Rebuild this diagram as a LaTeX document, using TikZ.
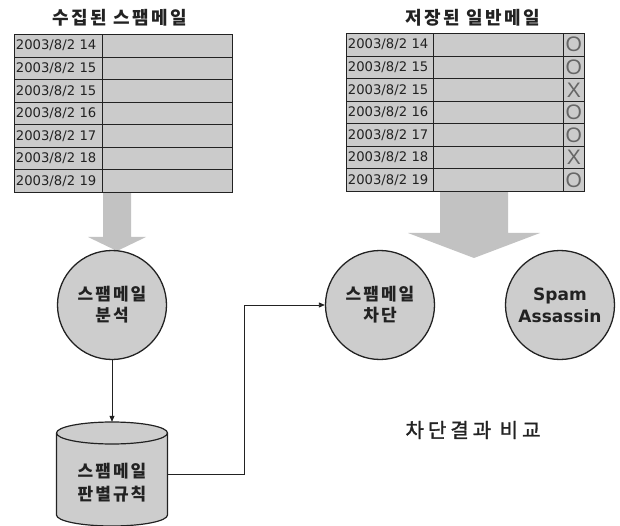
\documentclass[tikz,border=0pt]{standalone}
\usepackage{fontspec}
\usetikzlibrary{arrows.meta}
\newfontfamily\kr{Noto Sans CJK KR}
\newfontfamily\dv{DejaVu Sans}
\newfontfamily\lib{Liberation Sans}
\definecolor{cellgray}{HTML}{CBCBCB}
\definecolor{circgray}{HTML}{CDCDCD}
\definecolor{arrgray}{HTML}{C2C2C2}
\definecolor{ink}{HTML}{222222}
\begin{document}
\begin{tikzpicture}[x=1pt,y=1pt,
  cell/.style={draw=ink, fill=cellgray, line width=0.8pt, inner sep=0pt, anchor=north west, minimum height=22.57pt},
  datecell/.style={cell, minimum width=88pt, text width=85pt, inner xsep=1.5pt, align=left, font=\dv\fontsize{13.2}{14}\selectfont, text=ink},
  blankcell/.style={cell, minimum width=130pt},
  oxcell/.style={cell, minimum width=21pt, font=\lib\fontsize{21}{21}\selectfont, text=black!60},
  title/.style={font=\kr\bfseries\fontsize{18}{20}\selectfont\addfontfeature{LetterSpace=13}, text=ink},
  bub/.style={circle, draw=ink, line width=1.3pt, fill=circgray, minimum size=109pt, inner sep=0pt, align=center, text=ink,
    font=\kr\bfseries\fontsize{17}{21}\selectfont\addfontfeature{LetterSpace=12}},
  bigarrow/.style={fill=arrgray, draw=none},
  conn/.style={draw=ink, line width=0.8pt, -{Triangle[length=6pt,width=5pt]}}
]
\useasboundingbox (0,0) rectangle (620,-526);

% titles
\node[title] (t1) at (120,-18) {수집된 스팸메일};
\node[title] (t2) at (473,-18) {저장된 일반메일};

% big block arrows
\fill[bigarrow] (103,-192) -- (131,-192) -- (131,-237) -- (146,-237) -- (117,-251) -- (88,-237) -- (103,-237) -- cycle;
\fill[bigarrow] (440,-191) -- (508,-191) -- (508,-233) -- (540,-233) -- (474,-258) -- (408,-233) -- (440,-233) -- cycle;

% left table
\foreach \d [count=\i] in {14,15,15,16,17,18,19} {
  \node[datecell] (L\i) at (14,{-34-(\i-1)*22.57}) {2003/8/2 \d};
  \node[blankcell] (Lb\i) at (102,{-34-(\i-1)*22.57}) {};
}
% right table
\foreach \d/\m [count=\i] in {14/O,15/O,15/X,16/O,17/O,18/X,19/O} {
  \node[datecell, minimum width=87pt, text width=84pt] (R\i) at (346,{-33-(\i-1)*22.57}) {2003/8/2 \d};
  \node[blankcell] (Rb\i) at (433,{-33-(\i-1)*22.57}) {};
  \node[oxcell] (Rx\i) at (563,{-33-(\i-1)*22.57}) {\m};
}

% circles
\node[bub] (c1) at (112,-305) {스팸메일\\분석};
\node[bub] (c2) at (380,-305) {스팸메일\\차단};
\node[bub, font=\dv\bfseries\fontsize{17}{22}\selectfont] (c3) at (560,-305) {Spam\\Assassin};

% cylinder
\fill[circgray] (56.5,-433) -- (56.5,-515) arc[start angle=180,end angle=360,x radius=55.5,y radius=11]
  -- (167.5,-433) arc[start angle=0,end angle=180,x radius=55.5,y radius=11] -- cycle;
\draw[ink, line width=1.2pt] (56.5,-433) -- (56.5,-515) arc[start angle=180,end angle=360,x radius=55.5,y radius=11]
  -- (167.5,-433) arc[start angle=0,end angle=180,x radius=55.5,y radius=11];
\draw[ink, line width=1.2pt] (56.5,-433) arc[start angle=180,end angle=360,x radius=55.5,y radius=11];
\node[minimum width=111pt, minimum height=104pt, inner sep=0pt] (cyl) at (112,-474) {};
\node[align=center, text=ink, font=\kr\bfseries\fontsize{17}{23}\selectfont\addfontfeature{LetterSpace=12}] (cyltxt) at (112,-483) {스팸메일\\판별규칙};

% connectors
\draw[conn] (c1) -- (cyl.north);
\draw[conn] (cyl.east) -- ++(77,0) |- (c2.west);

% comparison label
\node[font=\kr\fontsize{20}{22}\selectfont\addfontfeature{LetterSpace=20,FakeBold=1.5}, text=ink] (cmp) at (473,-430) {차단결과 비교};
\end{tikzpicture}
\end{document}
